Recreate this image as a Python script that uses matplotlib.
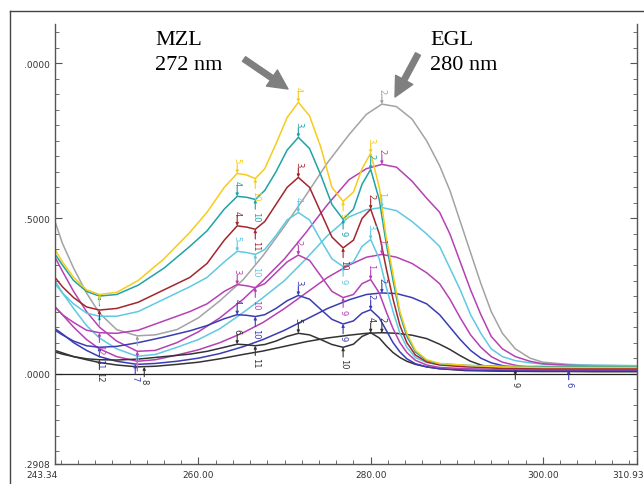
"""
plot.py

UV overlay spectra of MZL and EGL mixtures, redrawn with matplotlib.
"""

import matplotlib
matplotlib.use("Agg")
import matplotlib.pyplot as plt
from matplotlib.lines import Line2D
from matplotlib.ticker import MultipleLocator, FixedLocator
from matplotlib.transforms import ScaledTranslation

# wavelength grid (nm) of the MZL-type curves
wl_mzl = [243.34, 244.2, 245.5, 247, 248.5, 250.5, 253, 256, 259, 261, 263, 264.5,
          265.6, 266.6, 267.7, 269, 270.3, 271.6, 272.9, 274.2, 275.5, 276.8, 278, 279,
          280, 281, 281.8, 282.6, 283.4, 284.2, 285.2, 286.5, 288, 291, 295, 300, 305,
          310.93]

mzl_yellow = [0.40, 0.36, 0.31, 0.27, 0.255, 0.262, 0.30, 0.37, 0.455, 0.52, 0.60, 0.645,
              0.64, 0.628, 0.66, 0.74, 0.825, 0.874, 0.83, 0.73, 0.60, 0.555, 0.585, 0.66,
              0.71, 0.60, 0.44, 0.32, 0.20, 0.13, 0.075, 0.045, 0.033, 0.027, 0.022, 0.02,
              0.02, 0.02]
mzl_teal = [0.385, 0.35, 0.30, 0.265, 0.25, 0.255, 0.285, 0.34, 0.41, 0.46, 0.53, 0.571,
            0.568, 0.561, 0.59, 0.65, 0.72, 0.761, 0.725, 0.64, 0.545, 0.497, 0.53, 0.61,
            0.658, 0.56, 0.42, 0.30, 0.19, 0.12, 0.07, 0.042, 0.032, 0.027, 0.023, 0.022,
            0.022, 0.022]
mzl_red = [0.31, 0.28, 0.245, 0.215, 0.205, 0.21, 0.23, 0.27, 0.31, 0.355, 0.43, 0.476,
           0.472, 0.465, 0.49, 0.545, 0.60, 0.632, 0.60, 0.52, 0.44, 0.405, 0.43, 0.50,
           0.53, 0.45, 0.34, 0.24, 0.155, 0.10, 0.06, 0.038, 0.028, 0.022, 0.018, 0.016,
           0.016, 0.016]
mzl_cyan = [0.29, 0.26, 0.225, 0.195, 0.185, 0.185, 0.20, 0.24, 0.28, 0.31, 0.36, 0.394,
            0.39, 0.384, 0.40, 0.445, 0.495, 0.519, 0.495, 0.43, 0.37, 0.345, 0.36, 0.41,
            0.432, 0.37, 0.28, 0.20, 0.13, 0.085, 0.052, 0.036, 0.029, 0.025, 0.024, 0.024,
            0.024, 0.024]
mzl_magenta = [0.215, 0.19, 0.165, 0.14, 0.132, 0.13, 0.14, 0.17, 0.20, 0.225, 0.265, 0.287,
               0.283, 0.277, 0.29, 0.325, 0.36, 0.382, 0.365, 0.315, 0.265, 0.245, 0.255,
               0.29, 0.303, 0.26, 0.20, 0.145, 0.10, 0.068, 0.043, 0.028, 0.02, 0.016,
               0.014, 0.013, 0.013, 0.013]
mzl_blue = [0.14, 0.125, 0.105, 0.09, 0.085, 0.088, 0.10, 0.118, 0.138, 0.155, 0.177, 0.19,
            0.188, 0.184, 0.19, 0.21, 0.235, 0.252, 0.24, 0.207, 0.175, 0.16, 0.17, 0.195,
            0.206, 0.18, 0.14, 0.10, 0.07, 0.048, 0.032, 0.022, 0.016, 0.012, 0.01, 0.009,
            0.009, 0.009]
mzl_black = [0.07, 0.063, 0.055, 0.048, 0.045, 0.044, 0.047, 0.055, 0.063, 0.072, 0.085,
             0.095, 0.093, 0.09, 0.094, 0.105, 0.12, 0.13, 0.125, 0.11, 0.094, 0.085, 0.095,
             0.12, 0.132, 0.115, 0.09, 0.068, 0.052, 0.04, 0.03, 0.022, 0.016, 0.01, 0.008,
             0.007, 0.007, 0.007]

# wavelength grid (nm) of the EGL-type curves
wl_egl = [243.34, 244.2, 245.5, 247, 248.5, 250.5, 252.9, 255, 257.5, 260, 262.5, 265.2,
          267.5, 270, 272.5, 275, 277.5, 279.5, 281.3, 283, 284.8, 286.5, 288, 289.2,
          290.4, 291.6, 292.8, 294, 295.3, 296.8, 298.5, 300, 303, 306, 310.93]

egl_gray = [0.49, 0.42, 0.34, 0.26, 0.195, 0.142, 0.122, 0.125, 0.142, 0.18, 0.235, 0.303,
            0.38, 0.475, 0.575, 0.68, 0.77, 0.835, 0.868, 0.86, 0.82, 0.75, 0.67, 0.59,
            0.49, 0.39, 0.29, 0.20, 0.13, 0.08, 0.05, 0.037, 0.03, 0.027, 0.025]
egl_magenta = [0.375, 0.33, 0.265, 0.20, 0.15, 0.105, 0.072, 0.075, 0.10, 0.135, 0.18, 0.24,
               0.30, 0.37, 0.455, 0.545, 0.625, 0.66, 0.674, 0.665, 0.62, 0.565, 0.52,
               0.45, 0.36, 0.27, 0.19, 0.12, 0.08, 0.055, 0.04, 0.032, 0.027, 0.024, 0.022]
egl_cyan = [0.30, 0.26, 0.21, 0.155, 0.115, 0.08, 0.056, 0.062, 0.085, 0.11, 0.145, 0.197,
            0.245, 0.30, 0.37, 0.445, 0.505, 0.528, 0.535, 0.525, 0.49, 0.45, 0.41, 0.34,
            0.27, 0.19, 0.13, 0.08, 0.055, 0.042, 0.035, 0.031, 0.028, 0.027, 0.026]
egl_magenta2 = [0.215, 0.19, 0.15, 0.11, 0.08, 0.055, 0.04, 0.045, 0.06, 0.077, 0.10, 0.132,
                0.165, 0.21, 0.26, 0.31, 0.35, 0.375, 0.384, 0.375, 0.355, 0.325, 0.29,
                0.24, 0.18, 0.125, 0.085, 0.055, 0.037, 0.027, 0.021, 0.018, 0.016, 0.015,
                0.015]
egl_blue = [0.145, 0.128, 0.10, 0.075, 0.055, 0.04, 0.03, 0.033, 0.04, 0.05, 0.065, 0.087,
            0.11, 0.14, 0.175, 0.21, 0.238, 0.255, 0.26, 0.258, 0.245, 0.225, 0.19, 0.15,
            0.11, 0.075, 0.05, 0.035, 0.026, 0.02, 0.016, 0.014, 0.012, 0.011, 0.01]
egl_black = [0.075, 0.067, 0.055, 0.045, 0.036, 0.028, 0.022, 0.024, 0.03, 0.037, 0.048,
             0.062, 0.073, 0.088, 0.103, 0.115, 0.124, 0.13, 0.132, 0.13, 0.124, 0.113,
             0.095, 0.078, 0.058, 0.04, 0.028, 0.02, 0.016, 0.013, 0.011, 0.01, 0.008,
             0.007, 0.007]

# peak picks: (grid index, label, 'max' or 'min', sideways shift in points)
marks_yellow = [(4, "", "min", 0), (11, "5", "max", 0), (13, "10", "min", 0),
                (17, "4", "max", 0), (21, "9", "min", 0), (24, "3", "max", 0)]
marks_teal = [(4, "", "min", 0), (11, "4", "max", 0), (13, "10", "min", 0),
              (17, "3", "max", 0), (21, "9", "min", 0), (24, "2", "max", 0)]
marks_red = [(4, "", "min", 0), (11, "4", "max", 0), (13, "11", "min", 0),
             (17, "3", "max", 0), (21, "10", "min", 0), (24, "2", "max", 0)]
marks_cyan = [(4, "", "min", 0), (11, "5", "max", 0), (13, "10", "min", 0),
              (17, "4", "max", 0), (21, "9", "min", 0), (24, "3", "max", 0)]
marks_magenta = [(4, "12", "min", 0), (11, "3", "max", 0), (13, "10", "min", 0),
                 (17, "2", "max", 0), (21, "9", "min", 0), (24, "1", "max", 0)]
marks_blue = [(4, "11", "min", 0), (11, "4", "max", 0), (13, "10", "min", 0),
              (17, "3", "max", 0), (21, "9", "min", 0), (24, "2", "max", 0)]
marks_black = [(4, "12", "min", 0), (11, "6", "max", 0), (13, "11", "min", 0),
               (17, "5", "max", 0), (21, "10", "min", 0), (24, "4", "max", 0)]
marks_egl_gray = [(6, "", "min", 0), (18, "2", "max", 0)]
marks_egl_magenta = [(6, "", "min", 0), (18, "2", "max", 0)]
marks_egl_cyan = [(6, "", "min", 0), (18, "1", "max", 0)]
marks_egl_magenta2 = [(6, "", "min", 0), (18, "1", "max", 0)]
marks_egl_blue = [(6, "7", "min", -1.5), (18, "2", "max", 0), (32, "6", "min", 0)]
marks_egl_black = [(6, "8", "min", 5), (18, "2", "max", 0), (29, "9", "min", 0)]

YELLOW = "#F6CC1C"
TEAL = "#1FA3A6"
RED = "#A3262E"
CYAN = "#5FC9E2"
MAGENTA = "#B541B4"
BLUE = "#3A3DB3"
BLACK = "#333333"
GRAY = "#A3A3A3"

W, H = 644, 485


def mark(ax, x, y, text, color, kind, dx):
    # shift the whole pick sideways so stacked picks stay readable
    trans = ax.transData + ScaledTranslation(dx / 72, 0, ax.figure.dpi_scale_trans)
    d = 7 if kind == "max" else -7
    ax.annotate("", xy=(x, y), xycoords=trans, xytext=(0, d), textcoords="offset points",
                arrowprops=dict(arrowstyle="-|>", color=color, lw=0.8,
                                mutation_scale=4, shrinkA=0, shrinkB=0))
    if text:
        ax.annotate(text, xy=(x, y), xycoords=trans, xytext=(0, d + (1 if d > 0 else -1)),
                    textcoords="offset points", rotation=270, ha="center",
                    va="bottom" if kind == "max" else "top", fontsize=6, color=color)


def draw_curve(ax, wl, vals, color, marks):
    ax.plot(wl, vals, color=color, lw=1.1, solid_joinstyle="round")
    for i, label, kind, dx in marks:
        mark(ax, wl[i], vals[i], label, color, kind, dx)


def main():
    fig = plt.figure(figsize=(W / 100, H / 100), dpi=100)
    ax = fig.add_axes([55 / W, 1 - 465 / H, (637 - 55) / W, (465 - 25) / H])

    ax.set_xlim(243.34, 310.93)
    ax.set_ylim(-0.2908, 1.126)
    ax.axhline(0, color="#222222", lw=0.9)

    draw_curve(ax, wl_egl, egl_gray, GRAY, marks_egl_gray)
    draw_curve(ax, wl_egl, egl_black, BLACK, marks_egl_black)
    draw_curve(ax, wl_egl, egl_blue, BLUE, marks_egl_blue)
    draw_curve(ax, wl_egl, egl_magenta2, MAGENTA, marks_egl_magenta2)
    draw_curve(ax, wl_egl, egl_cyan, CYAN, marks_egl_cyan)
    draw_curve(ax, wl_egl, egl_magenta, MAGENTA, marks_egl_magenta)

    draw_curve(ax, wl_mzl, mzl_black, BLACK, marks_black)
    draw_curve(ax, wl_mzl, mzl_blue, BLUE, marks_blue)
    draw_curve(ax, wl_mzl, mzl_magenta, MAGENTA, marks_magenta)
    draw_curve(ax, wl_mzl, mzl_cyan, CYAN, marks_cyan)
    draw_curve(ax, wl_mzl, mzl_red, RED, marks_red)
    draw_curve(ax, wl_mzl, mzl_teal, TEAL, marks_teal)
    draw_curve(ax, wl_mzl, mzl_yellow, YELLOW, marks_yellow)

    # axes look: left, bottom and right spines, ticks pointing in
    ax.spines["top"].set_visible(False)
    for s in ("left", "bottom", "right"):
        ax.spines[s].set_color("#555555")
        ax.spines[s].set_linewidth(1.0)

    ax.xaxis.set_major_locator(FixedLocator([243.34, 260, 280, 300, 310.93]))
    ax.set_xticklabels(["243.34", "260.00", "280.00", "300.00", "310.93"])
    ax.xaxis.set_minor_locator(FixedLocator(list(range(244, 311, 2))))
    ax.yaxis.set_major_locator(FixedLocator([-0.2908, 0.0, 0.5, 1.0]))
    ax.set_yticklabels([".2908", ".0000", ".5000", ".0000"])
    ax.yaxis.set_minor_locator(MultipleLocator(0.05))

    ax.tick_params(which="both", direction="in", colors="#555555", labelcolor="#333333",
                   labelsize=6.5, right=True, top=False)
    ax.tick_params(which="major", length=5)
    ax.tick_params(which="minor", length=3)
    ax.tick_params(axis="x", pad=4)
    ax.tick_params(axis="y", pad=4)

    labels = ax.get_xticklabels()
    labels[0].set_transform(labels[0].get_transform()
                            + ScaledTranslation(-0.13, 0, fig.dpi_scale_trans))
    labels[-1].set_transform(labels[-1].get_transform()
                             + ScaledTranslation(-0.09, 0, fig.dpi_scale_trans))

    # outer frame
    fig.add_artist(Line2D([10 / W, 10 / W], [0, 1 - 12 / H], transform=fig.transFigure,
                          color="#444444", lw=1.0))
    fig.add_artist(Line2D([10 / W, 1], [1 - 12 / H, 1 - 12 / H], transform=fig.transFigure,
                          color="#444444", lw=1.0))

    # compound labels and arrows
    serif = ["Liberation Serif", "DejaVu Serif"]
    fig.text(155 / W, 1 - 45 / H, "MZL", family=serif, fontsize=16, va="baseline")
    fig.text(155 / W, 1 - 70 / H, "272 nm", family=serif, fontsize=16, va="baseline")
    fig.text(430 / W, 1 - 45 / H, "EGL", family=serif, fontsize=16, va="baseline")
    fig.text(430 / W, 1 - 70 / H, "280 nm", family=serif, fontsize=16, va="baseline")

    arrow = dict(facecolor="#7F7F7F", edgecolor="#7F7F7F", width=4, headwidth=14,
                 headlength=14, shrink=0)
    ax.annotate("", xy=(288 / W, 1 - 90 / H), xycoords="figure fraction",
                xytext=(244 / W, 1 - 60 / H), textcoords="figure fraction",
                arrowprops=arrow, annotation_clip=False)
    ax.annotate("", xy=(395 / W, 1 - 98 / H), xycoords="figure fraction",
                xytext=(418 / W, 1 - 55 / H), textcoords="figure fraction",
                arrowprops=arrow, annotation_clip=False)

    fig.savefig("out.png", dpi=100, facecolor="white")


if __name__ == "__main__":
    main()
